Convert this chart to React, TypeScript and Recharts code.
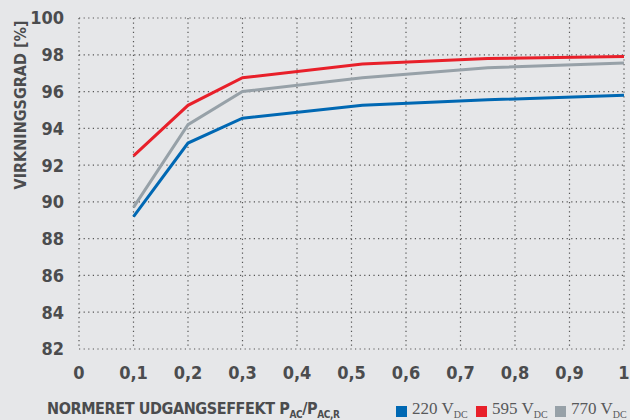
import React from "react";
import {
  LineChart,
  Line,
  XAxis,
  YAxis,
  CartesianGrid,
} from "recharts";

const loads = [0.1, 0.2, 0.3, 0.52, 0.75, 1.0];
const v220 = [89.2, 93.2, 94.55, 95.25, 95.55, 95.8];
const v595 = [92.5, 95.25, 96.75, 97.5, 97.8, 97.9];
const v770 = [89.7, 94.2, 96.0, 96.75, 97.3, 97.55];

const xTicks = [0, 0.1, 0.2, 0.3, 0.4, 0.5, 0.6, 0.7, 0.8, 0.9, 1];
const yTicks = [82, 84, 86, 88, 90, 92, 94, 96, 98, 100];

const series = [
  { key: "v220", volts: "220", color: "#0068b3" },
  { key: "v595", volts: "595", color: "#e8202a" },
  { key: "v770", volts: "770", color: "#97a1a8" },
];

const data = loads.map((x, i) => ({
  x,
  v220: v220[i],
  v595: v595[i],
  v770: v770[i],
}));

const TEXT = "#4b4c4e";
const FONT = "'DejaVu Sans Condensed', 'DejaVu Sans', sans-serif";

export default function App() {
  return (
    <div
      style={{
        position: "absolute",
        left: 0,
        top: 0,
        width: 630,
        height: 420,
        background: "#e6e7e9",
        fontFamily: FONT,
        overflow: "hidden",
      }}
    >
      <LineChart
        width={630}
        height={420}
        data={data}
        margin={{ top: 18, right: 6, left: 0, bottom: 0 }}
      >
        <CartesianGrid
          stroke="#555"
          strokeWidth={1.2}
          strokeDasharray="1.2 3.4"
        />
        <XAxis
          type="number"
          dataKey="x"
          domain={[0, 1]}
          ticks={xTicks}
          interval={0}
          axisLine={false}
          tickLine={false}
          tickMargin={11}
          height={71}
          tick={{ fill: TEXT, fontSize: 18, fontWeight: 700, fontFamily: FONT }}
          tickFormatter={(v: number) => String(v).replace(".", ",")}
        />
        <YAxis
          type="number"
          domain={[82, 100]}
          ticks={yTicks}
          interval={0}
          axisLine={false}
          tickLine={false}
          tickMargin={9}
          width={79}
          tick={{ fill: TEXT, fontSize: 18, fontWeight: 700, fontFamily: FONT }}
        />
        {series.map((s) => (
          <Line
            key={s.key}
            dataKey={s.key}
            stroke={s.color}
            strokeWidth={3}
            dot={false}
            type="linear"
            isAnimationActive={false}
          />
        ))}
      </LineChart>

      <div
        style={{
          position: "absolute",
          left: 20,
          top: 105,
          transform: "translate(-50%, -50%) rotate(-90deg)",
          whiteSpace: "nowrap",
          color: TEXT,
          fontWeight: 700,
          fontSize: 16,
          letterSpacing: 0,
        }}
      >
        VIRKNINGSGRAD [%]
      </div>

      <div
        style={{
          position: "absolute",
          left: 47,
          top: 399,
          whiteSpace: "nowrap",
          color: TEXT,
          fontWeight: 700,
          fontSize: 16,
          letterSpacing: -0.4,
        }}
      >
        NORMERET UDGANGSEFFEKT P<sub style={{ fontSize: 10 }}>AC</sub>/P
        <sub style={{ fontSize: 10 }}>AC,R</sub>
      </div>

      {series.map((s, i) => (
        <div
          key={s.key}
          style={{
            position: "absolute",
            left: [396, 476, 555][i],
            top: 399,
            display: "flex",
            alignItems: "center",
            color: "#58595b",
            fontFamily: "'Liberation Serif', 'DejaVu Serif', serif",
            fontSize: 17,
            whiteSpace: "nowrap",
          }}
        >
          <span
            style={{
              width: 11,
              height: 11,
              background: s.color,
              display: "inline-block",
              marginRight: 5,
              marginTop: 4,
            }}
          />
          <span>
            {s.volts} V<sub style={{ fontSize: 10 }}>DC</sub>
          </span>
        </div>
      ))}
    </div>
  );
}
